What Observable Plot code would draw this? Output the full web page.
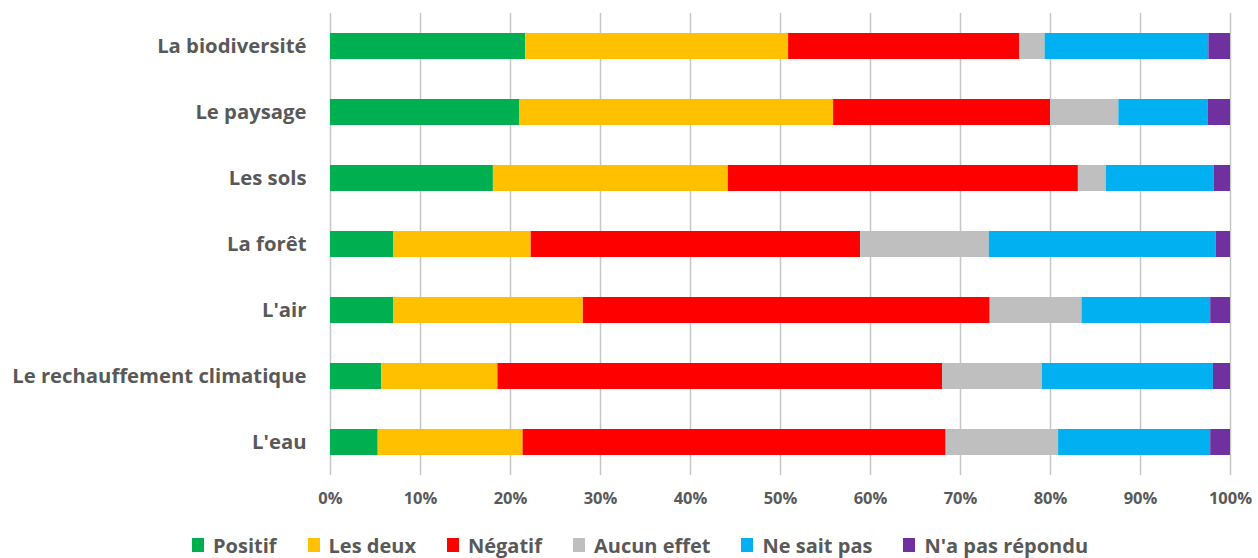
<!DOCTYPE html>
<html>
<head>
<meta charset="utf-8">
<script src="https://cdn.jsdelivr.net/npm/d3@7"></script>
<script src="https://cdn.jsdelivr.net/npm/@observablehq/plot@0.6"></script>
<style>
  html, body { margin: 0; padding: 0; background: #fff; }
  body { width: 1258px; height: 558px; overflow: hidden; font-family: "Open Sans", sans-serif; }
  #legend { display: flex; align-items: center; padding-left: 192px; height: 40px; margin-top: 11px; }
  .item { display: flex; align-items: center; margin-right: 31px; font-size: 20px; font-weight: bold; color: #595959; }
  .sw { width: 12px; height: 14px; margin-right: 9px; }
</style>
</head>
<body>
<div id="chart"></div>
<div id="legend"></div>
<script>
const categories = ["La biodiversité", "Le paysage", "Les sols", "La forêt", "L'air", "Le rechauffement climatique", "L'eau"];
const seriesNames = ["Positif", "Les deux", "Négatif", "Aucun effet", "Ne sait pas", "N'a pas répondu"];
const positif     = [21.7, 21.0, 18.1,  7.0,  7.0,  5.7,  5.3];
const lesDeux     = [29.2, 34.9, 26.1, 15.3, 21.1, 12.9, 16.1];
const negatif     = [25.7, 24.1, 38.9, 36.6, 45.2, 49.4, 47.0];
const aucunEffet  = [ 2.8,  7.6,  3.1, 14.3, 10.2, 11.1, 12.5];
const neSaitPas   = [18.2,  9.9, 12.0, 25.2, 14.3, 19.0, 16.9];
const pasRepondu  = [ 2.4,  2.5,  1.8,  1.6,  2.2,  1.9,  2.2];
const seriesColors = ["#00B050", "#FFC000", "#FF0000", "#BFBFBF", "#00B0F0", "#7030A0"];
const xTicks = [0, 10, 20, 30, 40, 50, 60, 70, 80, 90, 100];

const seriesValues = [positif, lesDeux, negatif, aucunEffet, neSaitPas, pasRepondu];
const data = [];
seriesNames.forEach((s, si) => {
  categories.forEach((c, ci) => {
    data.push({category: c, series: s, value: seriesValues[si][ci]});
  });
});

const chart = Plot.plot({
  width: 1258,
  height: 514,
  marginLeft: 330,
  marginRight: 28,
  marginTop: 13,
  marginBottom: 39,
  style: {fontFamily: "'Open Sans', sans-serif", background: "#fff"},
  x: {domain: [0, 100], ticks: xTicks},
  y: {domain: categories, padding: 0.6, paddingOuter: 0.3},
  color: {domain: seriesNames, range: seriesColors},
  marks: [
    Plot.gridX(xTicks, {stroke: "#c6c6c6", strokeOpacity: 1, strokeWidth: 1.5}),
    Plot.barX(data, Plot.stackX({
      x: "value", y: "category", fill: "series", order: seriesNames
    })),
    Plot.axisX(xTicks, {tickSize: 0, tickPadding: 17, tickFormat: d => d + "%", fontSize: 16.5, fontWeight: "bold", fill: "#595959", label: null}),
    Plot.axisY({tickSize: 0, tickPadding: 24, fontSize: 20.3, fontWeight: "bold", fill: "#595959", label: null})
  ]
});
document.getElementById("chart").appendChild(chart);

const legend = document.getElementById("legend");
seriesNames.forEach((s, i) => {
  const item = document.createElement("div");
  item.className = "item";
  const sw = document.createElement("div");
  sw.className = "sw";
  sw.style.background = seriesColors[i];
  const t = document.createElement("span");
  t.textContent = s;
  item.appendChild(sw);
  item.appendChild(t);
  legend.appendChild(item);
});
</script>
</body>
</html>
